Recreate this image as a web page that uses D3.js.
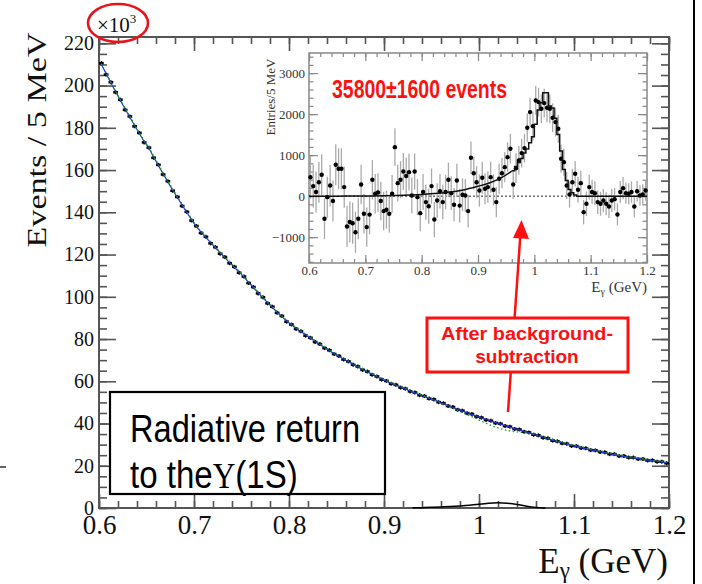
<!DOCTYPE html>
<html><head><meta charset="utf-8">
<script src="https://cdn.jsdelivr.net/npm/d3@7"></script>
<style>body{margin:0;background:#fff;} svg{display:block;}</style>
</head><body>
<script>
// ---------- DATA ----------
// Main plot: events per 5 MeV bin (x10^3), 120 bins 0.6-1.2 GeV
const mainData = [
210.6,205.2,201.6,196.8,193.3,188.5,185.4,180.7,177.6,173.1,
170.6,165.8,162.5,157.9,154.7,150.2,147.3,143.0,140.2,136.1,
133.5,130.2,128.4,125.3,123.5,120.4,118.8,115.9,114.2,111.4,
109.6,106.5,104.6,101.6,99.8,96.9,95.3,92.4,90.9,88.2,
86.9,84.8,83.7,81.6,80.6,78.6,77.6,75.7,74.7,72.9,
72.0,70.3,69.4,67.8,67.0,65.4,64.6,63.1,62.3,60.8,
60.2,58.8,58.3,57.0,56.5,55.2,54.7,53.4,53.0,51.8,
51.4,50.1,49.6,48.3,47.8,46.5,46.1,44.9,44.5,43.3,
42.8,41.7,41.3,40.2,39.9,38.8,38.5,37.4,37.2,36.1,
35.8,34.7,34.4,33.3,33.0,31.9,31.6,30.6,30.4,29.4,
29.3,28.4,28.3,27.4,27.3,26.5,26.4,25.5,25.5,24.6,
24.6,23.9,23.9,23.2,23.2,22.5,22.6,21.9,21.9,21.2];
// Total fit (blue)
const mainFit = [
210.0,205.6,201.3,197.1,193.0,188.9,185.0,181.1,177.3,173.6,
170.3,166.2,162.2,158.2,154.4,150.6,147.0,143.4,139.9,136.5,
133.2,130.6,128.1,125.6,123.2,120.8,118.5,116.2,113.9,111.7,
109.4,106.8,104.3,101.9,99.5,97.2,95.0,92.7,90.6,88.5,
86.7,85.1,83.5,81.9,80.4,78.9,77.4,76.0,74.5,73.1,
71.8,70.5,69.2,68.0,66.8,65.6,64.4,63.3,62.1,61.0,
60.0,59.0,58.1,57.2,56.3,55.4,54.5,53.6,52.8,52.0,
51.2,50.3,49.4,48.5,47.6,46.7,45.9,45.1,44.3,43.5,
42.6,41.9,41.1,40.4,39.7,39.0,38.3,37.6,37.0,36.3,
35.6,34.9,34.2,33.5,32.8,32.1,31.4,30.8,30.2,29.6,
29.1,28.6,28.1,27.6,27.1,26.7,26.2,25.7,25.3,24.8,
24.4,24.1,23.7,23.4,23.0,22.7,22.4,22.1,21.7,21.4];
// Signal component in main plot (x10^3)
const sigE = [0.93,0.94,0.95,0.96,0.97,0.98,0.99,1.00,1.01,1.02,1.03,1.04,1.05,1.06,1.07];
const sigV = [0.05,0.15,0.3,0.5,0.7,1.0,1.3,1.8,2.3,2.6,2.3,1.7,0.8,0.2,0.0];

// Inset: background-subtracted entries / 5 MeV, 120 bins
const insetVals = [
460,245,100,340,520,-550,-25,260,-120,765,
667,667,220,-740,-630,-660,-880,-550,285,-430,
-755,-450,400,57,90,-120,-365,-330,-430,57,
1195,317,400,600,490,585,16,600,-25,-415,
100,-145,-245,245,-570,-105,120,-145,100,400,
73,-210,382,-230,33,16,-365,935,560,340,
138,447,180,220,463,155,-145,423,560,707,
951,1155,285,683,870,1049,1171,1667,2049,1707,
2333,2293,2130,2268,2154,2130,1911,1805,1642,911,
829,260,40,340,545,155,317,-390,-187,220,
100,73,-145,-187,-105,-187,-252,-105,-73,-447,
100,195,73,57,100,-252,120,16,40,138];
const insetErr = [
520,520,500,500,500,500,500,500,500,500,
500,500,500,500,500,500,500,500,480,480,
480,480,480,480,470,470,470,460,460,460,
460,450,450,450,450,450,440,440,440,440,
440,430,430,430,430,420,420,420,420,420,
410,410,410,410,400,400,400,400,400,390,
390,390,380,380,380,380,370,370,370,370,
360,360,360,360,350,350,350,350,350,350,
350,350,350,350,350,350,350,350,340,340,
330,330,320,320,310,310,300,300,300,300,
300,290,290,290,280,280,280,280,270,270,
270,270,260,260,260,260,250,250,250,250];
// Inset fit curve (smooth part) and signal shape histogram
const insetCurveE = [0.60,0.65,0.70,0.75,0.80,0.85,0.88,0.90,0.92,0.94,0.96];
const insetCurveV = [0,0,5,15,40,100,170,240,320,440,610];
const insetHistStart = 0.96;
const insetHistV = [620,720,820,920,1050,1150,1300,1450,1750,2100,2280,2520,
                    2520,2200,2150,1900,1500,1100,650,380,160,80,30,0];

const yTicksMain = [0,20,40,60,80,100,120,140,160,180,200,220];
const xTicksMain = [0.6,0.7,0.8,0.9,1.0,1.1,1.2];
const yTicksInset = [-1000,0,1000,2000,3000];
const xTicksInset = [0.6,0.7,0.8,0.9,1.0,1.1,1.2];

// ---------- DRAW ----------
const W = 702, H = 584;
const SERIF = "'Liberation Serif','Times New Roman',serif";
const SANS = "'Liberation Sans',Arial,sans-serif";
const NARROW = "'Liberation Sans Narrow','Arial Narrow','Liberation Sans',Arial,sans-serif";
const svg = d3.select("body").append("svg").attr("width", W).attr("height", H);
svg.append("rect").attr("width", W).attr("height", H).attr("fill", "#fff");

const x = d3.scaleLinear().domain([0.6, 1.2]).range([99, 669]);
const y = d3.scaleLinear().domain([0, 223]).range([508, 37]);
const binC = i => 0.6 + 0.005 * (i + 0.5);
const fmtX = d => Math.abs(d - 1) < 1e-9 ? "1" : d3.format(".1f")(d);
const axisCol = "#555";

function styleAxis(g) {
  g.select(".domain").remove();
  g.selectAll("line").attr("stroke", axisCol).attr("stroke-width", 1.6);
}

// main ticks
svg.append("g").attr("transform", "translate(99,0)")
  .call(d3.axisLeft(y).tickValues(d3.range(0, 223, 5)).tickSize(-8).tickFormat(""))
  .call(styleAxis);
const gyl = svg.append("g").attr("transform", "translate(99,0)")
  .call(d3.axisLeft(y).tickValues(yTicksMain).tickSizeInner(-17).tickSizeOuter(0).tickPadding(5).tickFormat(d3.format("d")))
  .call(styleAxis);
gyl.selectAll("text").attr("font-family", SERIF).attr("font-size", 20).attr("fill", "#111");
svg.append("g").attr("transform", "translate(669,0)")
  .call(d3.axisRight(y).tickValues(d3.range(0, 223, 5)).tickSize(-8).tickFormat(""))
  .call(styleAxis);
svg.append("g").attr("transform", "translate(669,0)")
  .call(d3.axisRight(y).tickValues(yTicksMain).tickSize(-17).tickFormat(""))
  .call(styleAxis);

svg.append("g").attr("transform", "translate(0,508)")
  .call(d3.axisBottom(x).tickValues(d3.range(0.6, 1.2001, 0.02)).tickSize(-7).tickFormat(""))
  .call(styleAxis);
const gxl = svg.append("g").attr("transform", "translate(0,508)")
  .call(d3.axisBottom(x).tickValues(xTicksMain).tickSizeInner(-14).tickSizeOuter(0).tickPadding(7).tickFormat(fmtX))
  .call(styleAxis);
gxl.selectAll("text").attr("font-family", SERIF).attr("font-size", 27).attr("fill", "#111");
svg.append("g").attr("transform", "translate(0,37)")
  .call(d3.axisTop(x).tickValues(d3.range(0.6, 1.2001, 0.02)).tickSize(-7).tickFormat(""))
  .call(styleAxis);
svg.append("g").attr("transform", "translate(0,37)")
  .call(d3.axisTop(x).tickValues(xTicksMain).tickSize(-14).tickFormat(""))
  .call(styleAxis);

// frame
svg.append("rect").attr("x", 99).attr("y", 37).attr("width", 570).attr("height", 471)
  .attr("fill", "none").attr("stroke", axisCol).attr("stroke-width", 2);

// data points (main)
const pts = svg.append("g");
mainData.forEach((v, i) => {
  const cx = x(binC(i)), cy = y(v);
  pts.append("line").attr("x1", x(binC(i) - 0.0025)).attr("x2", x(binC(i) + 0.0025))
    .attr("y1", cy).attr("y2", cy).attr("stroke", "#000").attr("stroke-width", 2.6);
  pts.append("line").attr("x1", cx).attr("x2", cx).attr("y1", cy - 2).attr("y2", cy + 2)
    .attr("stroke", "#000").attr("stroke-width", 1.4);
});
const sigAt = e => {
  if (e <= sigE[0] || e >= sigE[sigE.length - 1]) return 0;
  const j = d3.bisectRight(sigE, e) - 1;
  const t = (e - sigE[j]) / (sigE[j + 1] - sigE[j]);
  return sigV[j] + t * (sigV[j + 1] - sigV[j]);
};
const lineMain = d3.line().x(d => x(d[0])).y(d => y(d[1])).curve(d3.curveMonotoneX);
svg.append("path").attr("d", lineMain(mainFit.map((v, i) => [binC(i), v])))
  .attr("fill", "none").attr("stroke", "#2233dd").attr("stroke-width", 1.2);
svg.append("path").attr("d", lineMain(mainFit.map((v, i) => [binC(i), v - sigAt(binC(i)) + 0.4])))
  .attr("fill", "none").attr("stroke", "#1a9a1a").attr("stroke-width", 1.3).attr("stroke-dasharray", "1.5,2.5");
svg.append("path").attr("d", d3.line().x(d => x(d[0])).y(d => y(d[1])).curve(d3.curveBasis)(sigE.map((e, i) => [e, sigV[i]])))
  .attr("fill", "none").attr("stroke", "#000").attr("stroke-width", 1.5);

// axis titles
svg.append("text").attr("transform", "translate(46,140) rotate(-90)")
  .attr("text-anchor", "middle").attr("font-family", SERIF).attr("font-size", 27)
  .attr("textLength", 215).attr("lengthAdjust", "spacingAndGlyphs").attr("fill", "#111")
  .text("Events / 5 MeV");
const xt = svg.append("text").attr("x", 668).attr("y", 573).attr("text-anchor", "end")
  .attr("font-family", SERIF).attr("font-size", 35).attr("fill", "#111");
xt.append("tspan").text("E");
xt.append("tspan").attr("font-size", 23).attr("dy", 5).text("γ");
xt.append("tspan").attr("dy", -5).text(" (GeV)");

// x10^3 with red ellipse
const mult = svg.append("text").attr("x", 97).attr("y", 32).attr("font-family", SERIF)
  .attr("font-size", 21).attr("fill", "#111");
mult.append("tspan").text("×10");
mult.append("tspan").attr("font-size", 13).attr("dy", -9).text("3");
svg.append("ellipse").attr("cx", 118).attr("cy", 23).attr("rx", 30).attr("ry", 19)
  .attr("fill", "none").attr("stroke", "#e8141c").attr("stroke-width", 2.6);

// ---------- INSET ----------
const xi = d3.scaleLinear().domain([0.6, 1.2]).range([309, 647]);
const yi = d3.scaleLinear().domain([-1630, 3490]).range([263, 53]);
const inset = svg.append("g");
inset.append("rect").attr("x", 309).attr("y", 53).attr("width", 338).attr("height", 210).attr("fill", "#fff");
const insCol = "#888";
function styleIns(g) {
  g.select(".domain").remove();
  g.selectAll("line").attr("stroke", insCol).attr("stroke-width", 1.2);
}
inset.append("g").attr("transform", "translate(309,0)")
  .call(d3.axisLeft(yi).tickValues(d3.range(-1600, 3490, 200)).tickSize(-4.5).tickFormat("")).call(styleIns);
const giy = inset.append("g").attr("transform", "translate(309,0)")
  .call(d3.axisLeft(yi).tickValues(yTicksInset).tickSizeInner(-9).tickSizeOuter(0).tickPadding(4).tickFormat(d3.format("d"))).call(styleIns);
giy.selectAll("text").attr("font-family", SERIF).attr("font-size", 13).attr("fill", "#333");
inset.append("g").attr("transform", "translate(647,0)")
  .call(d3.axisRight(yi).tickValues(d3.range(-1600, 3490, 200)).tickSize(-4.5).tickFormat("")).call(styleIns);
inset.append("g").attr("transform", "translate(647,0)")
  .call(d3.axisRight(yi).tickValues(yTicksInset).tickSize(-9).tickFormat("")).call(styleIns);
inset.append("g").attr("transform", "translate(0,263)")
  .call(d3.axisBottom(xi).tickValues(d3.range(0.6, 1.2001, 0.02)).tickSize(-4).tickFormat("")).call(styleIns);
const gix = inset.append("g").attr("transform", "translate(0,263)")
  .call(d3.axisBottom(xi).tickValues(xTicksInset).tickSizeInner(-8).tickSizeOuter(0).tickPadding(3).tickFormat(fmtX)).call(styleIns);
gix.selectAll("text").attr("font-family", SERIF).attr("font-size", 13).attr("fill", "#333");
inset.append("g").attr("transform", "translate(0,53)")
  .call(d3.axisTop(xi).tickValues(d3.range(0.6, 1.2001, 0.02)).tickSize(-4).tickFormat("")).call(styleIns);
inset.append("g").attr("transform", "translate(0,53)")
  .call(d3.axisTop(xi).tickValues(xTicksInset).tickSize(-8).tickFormat("")).call(styleIns);
inset.append("rect").attr("x", 309).attr("y", 53).attr("width", 338).attr("height", 210)
  .attr("fill", "none").attr("stroke", insCol).attr("stroke-width", 1.5);

// zero dotted line
inset.append("line").attr("x1", xi(0.6)).attr("x2", xi(1.2)).attr("y1", yi(0)).attr("y2", yi(0))
  .attr("stroke", "#222").attr("stroke-width", 1).attr("stroke-dasharray", "2,2");
// error bars + points
insetVals.forEach((v, i) => {
  const cx = xi(binC(i));
  inset.append("line").attr("x1", cx).attr("x2", cx).attr("y1", yi(v - insetErr[i])).attr("y2", yi(v + insetErr[i]))
    .attr("stroke", "#aaa").attr("stroke-width", 1.3);
});
insetVals.forEach((v, i) => {
  inset.append("circle").attr("cx", xi(binC(i))).attr("cy", yi(v)).attr("r", 2.2).attr("fill", "#000");
});
// smooth fit part
inset.append("path")
  .attr("d", d3.line().x(d => xi(d[0])).y(d => yi(d[1])).curve(d3.curveMonotoneX)(insetCurveE.map((e, i) => [e, insetCurveV[i]])))
  .attr("fill", "none").attr("stroke", "#111").attr("stroke-width", 1.5);
// histogram part
const histPts = [];
insetHistV.forEach((v, i) => {
  const lo = insetHistStart + 0.005 * i;
  histPts.push([lo, v]); histPts.push([lo + 0.005, v]);
});
histPts.push([1.2, 0]);
inset.append("path")
  .attr("d", d3.line().x(d => xi(d[0])).y(d => yi(d[1]))(histPts))
  .attr("fill", "none").attr("stroke", "#111").attr("stroke-width", 1.5);

// inset labels
inset.append("text").attr("transform", "translate(275,97) rotate(-90)").attr("text-anchor", "middle")
  .attr("font-family", SERIF).attr("font-size", 13).attr("fill", "#333").text("Entries/5 MeV");
const it = inset.append("text").attr("x", 647).attr("y", 292).attr("text-anchor", "end")
  .attr("font-family", SERIF).attr("font-size", 15).attr("fill", "#333");
it.append("tspan").text("E");
it.append("tspan").attr("font-size", 10).attr("dy", 3).text("γ");
it.append("tspan").attr("dy", -3).text("  (GeV)");
inset.append("text").attr("x", 332).attr("y", 98).attr("font-family", NARROW).attr("font-weight", "bold")
  .attr("font-size", 25).attr("fill", "#ff1010").attr("textLength", 175).attr("lengthAdjust", "spacingAndGlyphs")
  .text("35800±1600 events");

// ---------- ANNOTATIONS ----------
// red arrow
svg.append("line").attr("x1", 508).attr("y1", 412).attr("x2", 520.3).attr("y2", 236)
  .attr("stroke", "#ff1010").attr("stroke-width", 2.5);
svg.append("polygon").attr("points", "521.5,220 513,238 529,239").attr("fill", "#ff1010");
svg.append("rect").attr("x", 427).attr("y", 318).attr("width", 201).attr("height", 54)
  .attr("fill", "#fff").attr("stroke", "#ff1010").attr("stroke-width", 3);
svg.append("text").attr("x", 527).attr("y", 340).attr("text-anchor", "middle").attr("font-family", SANS)
  .attr("font-weight", "bold").attr("font-size", 18).attr("fill", "#ff1010")
  .attr("textLength", 172).attr("lengthAdjust", "spacingAndGlyphs").text("After background-");
svg.append("text").attr("x", 527).attr("y", 363).attr("text-anchor", "middle").attr("font-family", SANS)
  .attr("font-weight", "bold").attr("font-size", 19).attr("fill", "#ff1010").text("subtraction");

// black box
svg.append("rect").attr("x", 110).attr("y", 392).attr("width", 275).attr("height", 102)
  .attr("fill", "#fff").attr("stroke", "#000").attr("stroke-width", 2.2);
svg.append("text").attr("x", 130).attr("y", 442).attr("font-family", NARROW).attr("font-size", 38)
  .attr("fill", "#000").attr("textLength", 230).attr("lengthAdjust", "spacingAndGlyphs").text("Radiative return");
const t2 = svg.append("g").attr("transform", "translate(130,488) scale(0.87,1)")
  .append("text").attr("x", 0).attr("y", 0).attr("font-family", NARROW).attr("font-size", 38)
  .attr("fill", "#000");
t2.append("tspan").text("to the");
t2.append("tspan").attr("font-family", SERIF).attr("font-size", 36).text("Υ");
t2.append("tspan").text("(1S)");

// slide edge artifacts
svg.append("line").attr("x1", 694).attr("x2", 694).attr("y1", 0).attr("y2", H).attr("stroke", "#000").attr("stroke-width", 2);
svg.append("line").attr("x1", 0).attr("x2", 6).attr("y1", 467).attr("y2", 467).attr("stroke", "#333").attr("stroke-width", 1.5);
</script>
</body></html>
